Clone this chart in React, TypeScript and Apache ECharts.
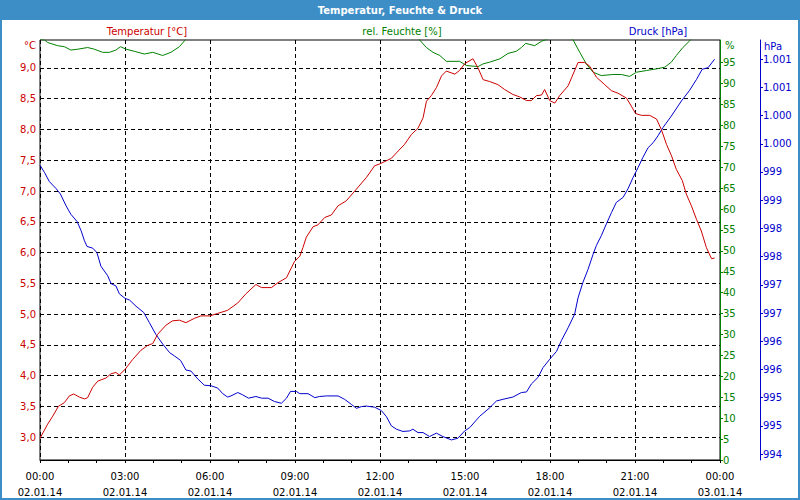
import React, { useEffect, useRef } from "react";
import * as echarts from "echarts";

const RED = "#cc0000";
const GREEN = "#008000";
const BLUE = "#0000cc";
const FRAME = "#3d8ec6";
const FONT = "DejaVu Sans";

const tempHours = [0, 0.27, 0.45, 0.65, 0.86, 1.04, 1.19, 1.39, 1.57, 1.68, 1.86, 2.04, 2.33, 2.51, 2.68, 2.8, 3.0, 3.27, 3.56, 3.8, 3.98, 4.15, 4.45, 4.68, 4.92, 5.15, 5.45, 5.68, 6.0, 6.27, 6.62, 6.98, 7.27, 7.62, 7.82, 8.17, 8.4, 8.7, 8.87, 8.99, 9.17, 9.28, 9.4, 9.64, 9.81, 10.05, 10.28, 10.52, 10.81, 11.11, 11.52, 11.81, 11.99, 12.4, 12.58, 12.87, 13.11, 13.34, 13.52, 13.64, 13.81, 13.99, 14.17, 14.34, 14.64, 14.81, 14.99, 15.28, 15.46, 15.64, 15.87, 16.16, 16.4, 16.69, 16.93, 17.17, 17.34, 17.52, 17.7, 17.81, 17.99, 18.17, 18.34, 18.64, 18.76, 18.99, 19.22, 19.4, 19.64, 19.93, 20.17, 20.4, 20.7, 20.87, 21.02, 21.23, 21.52, 21.76, 21.93, 22.11, 22.29, 22.46, 22.67, 22.81, 22.99, 23.17, 23.34, 23.52, 23.7, 23.81];
const tempValues = [2.98, 3.21, 3.34, 3.5, 3.56, 3.67, 3.7, 3.65, 3.62, 3.64, 3.81, 3.91, 3.96, 4.03, 4.05, 4.01, 4.1, 4.26, 4.41, 4.49, 4.52, 4.67, 4.82, 4.89, 4.9, 4.86, 4.93, 4.97, 4.97, 5.01, 5.06, 5.18, 5.33, 5.48, 5.43, 5.43, 5.51, 5.59, 5.75, 5.86, 5.94, 6.08, 6.25, 6.42, 6.45, 6.57, 6.61, 6.76, 6.84, 7.0, 7.22, 7.41, 7.44, 7.53, 7.62, 7.76, 7.92, 8.02, 8.19, 8.46, 8.55, 8.68, 8.87, 8.95, 8.9, 8.96, 9.07, 9.15, 9.0, 8.81, 8.78, 8.73, 8.65, 8.57, 8.53, 8.47, 8.47, 8.55, 8.56, 8.65, 8.47, 8.43, 8.55, 8.71, 8.84, 9.09, 9.09, 9.03, 8.85, 8.73, 8.63, 8.59, 8.51, 8.38, 8.26, 8.23, 8.23, 8.17, 8.0, 7.76, 7.57, 7.35, 7.17, 6.95, 6.76, 6.54, 6.35, 6.08, 5.9, 5.91];

const humHours = [0, 0.16, 0.27, 0.62, 0.86, 1.09, 1.33, 1.68, 1.92, 2.21, 2.45, 2.68, 2.84, 3.04, 3.33, 3.68, 3.98, 4.33, 4.62, 4.92, 5.1, 5.5, 9.0, 12.0, 13.2, 13.4, 13.64, 13.87, 14.11, 14.34, 14.81, 15.05, 15.46, 15.64, 15.87, 16.23, 16.52, 16.81, 16.99, 17.14, 17.46, 17.7, 17.87, 18.3, 18.81, 19.05, 19.28, 19.52, 19.81, 20.22, 20.52, 20.81, 21.05, 21.4, 21.76, 22.05, 22.28, 22.46, 22.69, 22.93, 23.3, 23.81];
const humValues = [100.6, 100.4, 99.8, 99.05, 98.8, 98.0, 98.2, 98.6, 98.2, 97.45, 97.45, 98.0, 98.8, 98.2, 97.7, 97.05, 97.45, 96.7, 97.45, 98.8, 100.2, 104, 106, 105, 103, 100.4, 98.6, 97.45, 96.7, 95.3, 95.3, 94.3, 94.05, 94.7, 95.1, 95.9, 97.2, 97.7, 98.6, 99.6, 99.05, 100.1, 100.5, 102.5, 100.5, 97.45, 94.7, 92.7, 91.9, 92.15, 92.15, 91.7, 92.7, 93.1, 93.5, 93.9, 95.1, 96.7, 98.6, 100.2, 103, 104];

const presHours = [0, 0.16, 0.33, 0.56, 0.72, 0.92, 1.09, 1.31, 1.45, 1.57, 1.66, 1.86, 2.01, 2.15, 2.39, 2.51, 2.68, 2.8, 3.0, 3.16, 3.39, 3.66, 3.86, 4.09, 4.33, 4.57, 4.74, 4.96, 5.15, 5.33, 5.57, 5.8, 6.04, 6.27, 6.45, 6.62, 6.74, 6.98, 7.15, 7.36, 7.62, 7.82, 8.05, 8.28, 8.52, 8.7, 8.84, 9.05, 9.17, 9.46, 9.7, 9.87, 10.11, 10.52, 10.75, 10.99, 11.17, 11.34, 11.52, 11.81, 12.05, 12.23, 12.4, 12.58, 12.81, 13.05, 13.16, 13.34, 13.52, 13.75, 13.99, 14.22, 14.52, 14.75, 14.99, 15.17, 15.52, 15.85, 16.11, 16.34, 16.69, 16.99, 17.17, 17.34, 17.58, 17.75, 17.99, 18.23, 18.4, 18.64, 18.87, 18.99, 19.16, 19.34, 19.52, 19.64, 19.81, 19.99, 20.17, 20.34, 20.58, 20.75, 20.93, 21.11, 21.28, 21.46, 21.64, 21.81, 21.99, 22.28, 22.64, 22.93, 23.17, 23.37, 23.58, 23.81];
const presValues = [999.12, 998.99, 998.83, 998.71, 998.61, 998.4, 998.25, 998.12, 997.96, 997.78, 997.68, 997.65, 997.57, 997.33, 997.16, 997.02, 996.98, 996.84, 996.76, 996.73, 996.62, 996.51, 996.33, 996.12, 995.95, 995.8, 995.74, 995.66, 995.49, 995.47, 995.33, 995.22, 995.21, 995.17, 995.07, 995.01, 995.03, 995.09, 995.05, 994.99, 995.02, 994.99, 994.99, 994.93, 994.9, 994.99, 995.11, 995.11, 995.07, 995.07, 995.0, 995.02, 995.03, 995.03, 994.97, 994.88, 994.81, 994.84, 994.85, 994.83, 994.77, 994.66, 994.5, 994.44, 994.4, 994.41, 994.44, 994.38, 994.38, 994.31, 994.37, 994.31, 994.25, 994.28, 994.41, 994.47, 994.67, 994.81, 994.94, 994.97, 995.01, 995.09, 995.1, 995.24, 995.36, 995.53, 995.68, 995.82, 996.01, 996.24, 996.48, 996.77, 997.04, 997.27, 997.54, 997.7, 997.87, 998.08, 998.28, 998.46, 998.55, 998.7, 998.9, 999.08, 999.26, 999.43, 999.52, 999.64, 999.79, 999.99, 1000.26, 1000.45, 1000.64, 1000.82, 1000.85, 1001.0];

const tempTicks = [3.0, 3.5, 4.0, 4.5, 5.0, 5.5, 6.0, 6.5, 7.0, 7.5, 8.0, 8.5, 9.0];
const humTicks = [0, 5, 10, 15, 20, 25, 30, 35, 40, 45, 50, 55, 60, 65, 70, 75, 80, 85, 90, 95];
const presTicks = [994, 994.5, 995, 995.5, 996, 996.5, 997, 997.5, 998, 998.5, 999, 999.5, 1000, 1000.5, 1001];
const hourTicks = [0, 3, 6, 9, 12, 15, 18, 21, 24];
const timeLabels = ["00:00", "03:00", "06:00", "09:00", "12:00", "15:00", "18:00", "21:00", "00:00"];
const dateLabels = ["02.01.14", "02.01.14", "02.01.14", "02.01.14", "02.01.14", "02.01.14", "02.01.14", "02.01.14", "03.01.14"];

const zip = (a: number[], b: number[]) => a.map((v, i) => [v, b[i]]);

export default function App() {
  const ref = useRef<HTMLDivElement>(null);
  useEffect(() => {
    const chart = echarts.init(ref.current!, null, { renderer: "svg" });
    const txt = { fontFamily: FONT, fontSize: 10 };
    chart.setOption({
      animation: false,
      backgroundColor: "#ffffff",
      textStyle: txt,
      grid: { left: 40, right: 80, top: 40, bottom: 39, show: true, borderColor: "#000", borderWidth: 1, backgroundColor: "#fff" },
      xAxis: {
        type: "value", min: 0, max: 24, interval: 3,
        axisLine: { show: true, onZero: false, lineStyle: { color: "#000" } },
        axisTick: { show: true, length: 3, lineStyle: { color: "#000" } },
        minorTick: { show: true, splitNumber: 3, length: 3, lineStyle: { color: "#000" } },
        splitLine: { show: true, lineStyle: { color: "#000", type: [4, 3] } },
        axisLabel: {
          ...txt, color: "#000", margin: 8, lineHeight: 16,
          formatter: (v: number) => {
            const i = hourTicks.indexOf(Math.round(v));
            return i >= 0 ? `${timeLabels[i]}\n${dateLabels[i]}` : "";
          },
        },
      },
      yAxis: [
        {
          type: "value", position: "left", min: 2.627, max: 9.455,
          axisLine: { show: false, onZero: false },
          axisTick: { show: false, customValues: tempTicks },
          axisLabel: { ...txt, color: RED, margin: 4, customValues: tempTicks, formatter: (v: number) => v.toFixed(1).replace(".", ",") },
          splitLine: { show: true, lineStyle: { color: "#000", type: [4, 3] } },
        },
        {
          type: "value", position: "right", min: 0, max: 100.4,
          axisLine: { show: true, onZero: false, lineStyle: { color: GREEN, width: 1 } },
          axisTick: { show: true, length: 3, customValues: humTicks, lineStyle: { color: GREEN } },
          axisLabel: { ...txt, color: GREEN, margin: 3, customValues: humTicks },
          splitLine: { show: false },
        },
        {
          type: "value", position: "right", offset: 40, min: 993.894, max: 1001.34,
          axisLine: { show: true, onZero: false, lineStyle: { color: BLUE, width: 1 } },
          axisTick: { show: true, length: 3, customValues: presTicks, lineStyle: { color: BLUE } },
          axisLabel: {
            ...txt, color: BLUE, margin: 3, customValues: presTicks,
            formatter: (v: number) => {
              const r = Math.round(v);
              return r >= 1000 ? `${Math.floor(r / 1000)}.${String(r % 1000).padStart(3, "0")}` : String(r);
            },
          },
          splitLine: { show: false },
        },
      ],
      graphic: [
        { type: "rect", left: 0, top: 0, shape: { width: 800, height: 20 }, style: { fill: FRAME }, silent: true },
        { type: "rect", shape: { x: 1, y: 1, width: 798, height: 498 }, style: { fill: "none", stroke: FRAME, lineWidth: 2 }, silent: true },
        { type: "text", x: 400, y: 10, style: { text: "Temperatur, Feuchte & Druck", fill: "#fff", font: `bold 10px "${FONT}"`, textAlign: "center", textVerticalAlign: "middle" } },
        { type: "text", x: 147, y: 31, style: { text: "Temperatur [°C]", fill: RED, font: `10px "${FONT}"`, textAlign: "center", textVerticalAlign: "middle" } },
        { type: "text", x: 402, y: 31, style: { text: "rel. Feuchte [%]", fill: GREEN, font: `10px "${FONT}"`, textAlign: "center", textVerticalAlign: "middle" } },
        { type: "text", x: 658, y: 31, style: { text: "Druck [hPa]", fill: BLUE, font: `10px "${FONT}"`, textAlign: "center", textVerticalAlign: "middle" } },
        { type: "text", x: 36, y: 45, style: { text: "°C", fill: RED, font: `10px "${FONT}"`, textAlign: "right", textVerticalAlign: "middle" } },
        { type: "text", x: 725, y: 45, style: { text: "%", fill: GREEN, font: `10px "${FONT}"`, textAlign: "left", textVerticalAlign: "middle" } },
        { type: "text", x: 764, y: 46, style: { text: "hPa", fill: BLUE, font: `10px "${FONT}"`, textAlign: "left", textVerticalAlign: "middle" } },
      ],
      series: [
        { name: "Feuchte", type: "line", yAxisIndex: 1, data: zip(humHours, humValues), showSymbol: false, lineStyle: { color: GREEN, width: 1 }, itemStyle: { color: GREEN } },
        { name: "Druck", type: "line", yAxisIndex: 2, data: zip(presHours, presValues), showSymbol: false, lineStyle: { color: BLUE, width: 1 }, itemStyle: { color: BLUE } },
        { name: "Temperatur", type: "line", yAxisIndex: 0, data: zip(tempHours, tempValues), showSymbol: false, lineStyle: { color: RED, width: 1 }, itemStyle: { color: RED } },
      ],
    });
    return () => chart.dispose();
  }, []);
  return <div ref={ref} style={{ position: "fixed", left: 0, top: 0, width: 800, height: 500 }} />;
}
